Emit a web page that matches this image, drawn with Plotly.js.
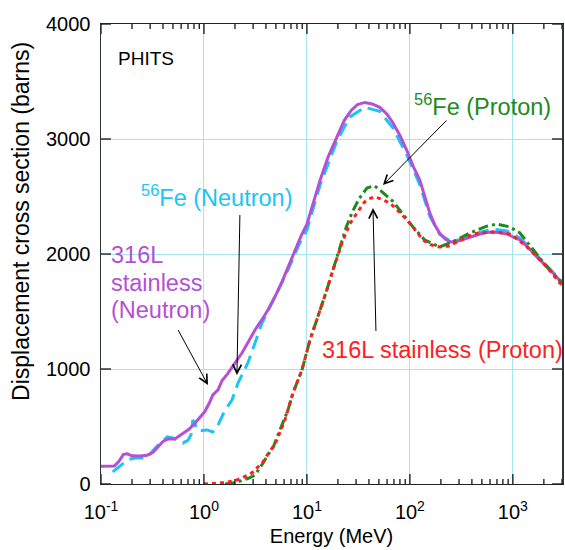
<!DOCTYPE html>
<html>
<head>
<meta charset="utf-8">
<script src="https://cdn.plot.ly/plotly-3.0.1.min.js"></script>
<style>html,body{margin:0;padding:0;background:#fff;}#chart{width:565px;height:550px;}</style>
</head>
<body>
<div id="chart"></div>
<script>
// Energy (MeV) and displacement cross section (barns)
var nSSE = [0.1,0.135,0.15,0.165,0.18,0.2,0.24,0.28,0.32,0.36,0.4,0.45,0.52,0.58,0.65,0.72,0.82,0.92,1.02,1.12,1.22,1.37,1.5,1.7,1.87,2.1,2.34,2.7,3.13,3.6,4.18,4.9,5.71,6.6,7.65,8.8,10,11.5,13.4,16,19.5,23,27,31,36.5,43,51,60,68.4,80,93.5,108,125,140,156,175,195,220,250,290,330,400,480,560,640,760,875,1000,1170,1400,1710,2200,2860,3000];
var nSSV = [155,157,200,258,262,245,243,250,275,330,370,392,392,420,450,478,530,580,630,700,775,818,900,960,1017,1080,1139,1240,1339,1420,1513,1630,1755,1890,2035,2160,2260,2440,2640,2840,3020,3160,3250,3300,3318,3305,3275,3215,3140,3030,2900,2760,2640,2490,2357,2250,2180,2130,2105,2110,2128,2150,2174,2188,2192,2185,2174,2150,2122,2060,1974,1880,1774,1750];

var nFeE = [0.13,0.15,0.171,0.19,0.214,0.24,0.267,0.3,0.35,0.39,0.44,0.5,0.55,0.625,0.7,0.75,0.78,0.82,0.855,0.95,1.07,1.22,1.35,1.45,1.6,1.87,2.14,2.67,3.66,4.89,6.54,8.55,10,13.4,19.5,26,36.5,51,68,93.5,125,156,195,250,330,480,640,875,1170,1710,2860,3000];
var nFeV = [105,150,191,215,226,226,226,260,330,365,409,400,383,357,380,430,557,520,470,465,470,452,500,560,643,730,878,1052,1400,1626,1861,2100,2210,2600,2980,3190,3275,3240,3100,2860,2600,2330,2170,2110,2130,2190,2215,2200,2140,1990,1780,1760];

var pSSE = [1.0,1.14,1.4,1.71,2.0,2.34,2.92,3.34,3.74,4.18,4.68,5.11,6.11,7.31,8.94,10.7,12.8,15.6,17.9,21.9,26,30.6,36,40,45.7,52,64,78,93.5,110,134,160,195,240,286,340,409,500,639,760,935,1100,1370,1700,2140,2860,3000];
var pSSV = [0,2,8,17,30,52,96,148,191,261,322,383,557,791,991,1252,1452,1687,1861,2096,2260,2357,2450,2480,2496,2480,2443,2370,2296,2220,2122,2080,2061,2070,2104,2140,2174,2185,2191,2185,2174,2130,2061,1980,1887,1748,1730];

var pFeE = [1.6,2.0,2.34,2.7,3.13,3.4,3.74,4.18,4.68,5.47,6.54,7.31,8.94,10.7,12.8,15.6,17.9,20.9,24,27.3,32,38.3,45,51,60,68,85,107,140,195,280,383,550,700,935,1170,1600,2140,3000];
var pFeV = [0,10,30,50,78,125,180,255,315,470,643,791,991,1252,1452,1687,1861,2061,2230,2357,2480,2574,2595,2557,2500,2460,2350,2235,2120,2061,2120,2183,2240,2261,2235,2183,2030,1887,1745];

var xTickVals = [0.1,1,10,100,1000];
var xTickText = ['10<sup>-1</sup>','10<sup>0</sup>','10<sup>1</sup>','10<sup>2</sup>','10<sup>3</sup>'];
var yTickVals = [0,1000,2000,3000,4000];
var xMax = 3000;

var cPurple = '#b450d6', cCyan = '#1cc4f4', cGreen = '#1d8a1d', cRed = '#ff1e1e';

var traces = [
  {x:nFeE, y:nFeV, mode:'lines', line:{color:cCyan, width:3, dash:'14px,7px'}},
  {x:nSSE, y:nSSV, mode:'lines', line:{color:cPurple, width:3}},
  {x:pFeE, y:pFeV, mode:'lines', line:{color:cGreen, width:3, dash:'10px,4px,3px,4px'}},
  {x:pSSE, y:pSSV, mode:'lines', line:{color:cRed, width:3, dash:'4px,4px'}}
];

// tick marks drawn inward on all four edges (major 10 px, minor 5 px), plot area is 461 x 460 px
var plotW = 461, plotH = 460;
var shapes = [];
function xTick(v, len){
  var f = len / plotH;
  shapes.push({type:'line', xref:'x', yref:'paper', x0:v, x1:v, y0:0, y1:f, line:{color:'#000', width:1.2}});
  shapes.push({type:'line', xref:'x', yref:'paper', x0:v, x1:v, y0:1, y1:1 - f, line:{color:'#000', width:1.2}});
}
function yTick(v, len){
  var f = len / plotW;
  shapes.push({type:'line', yref:'y', xref:'paper', y0:v, y1:v, x0:0, x1:f, line:{color:'#000', width:1.2}});
  shapes.push({type:'line', yref:'y', xref:'paper', y0:v, y1:v, x0:1, x1:1 - f, line:{color:'#000', width:1.2}});
}
xTickVals.forEach(function(d){
  xTick(d, 10);
  for(var k=2;k<=9;k++){ if(d*k <= xMax) xTick(d*k, 5); }
});
yTickVals.forEach(function(v){ yTick(v, 10); });

var fontFam = 'Liberation Sans, Arial, Helvetica, sans-serif';
function arrow(xE, yV, ax, ay){
  return {x:Math.log10(xE), y:yV, xref:'x', yref:'y', text:' ', font:{size:1},
    showarrow:true, arrowhead:5, arrowsize:1.7, arrowwidth:1, arrowcolor:'#000', ax:ax, ay:ay, standoff:0};
}
function label(txt, px, py, color, size, anchor){
  return {xref:'paper', yref:'paper', x:px, y:py, xanchor:anchor||'center', yanchor:'middle', text:txt, showarrow:false, font:{size:size, color:color}};
}
var layout = {
  width:565, height:550,
  margin:{l:101, r:3, t:24, b:66},
  paper_bgcolor:'#fff', plot_bgcolor:'#fff',
  showlegend:false,
  font:{family:fontFam, size:20, color:'#000'},
  xaxis:{type:'log', range:[-1, Math.log10(xMax)], tickmode:'array', tickvals:xTickVals, ticktext:xTickText,
    ticks:'', showline:true, linecolor:'#222', linewidth:1.2, mirror:true,
    showgrid:true, gridcolor:'#a6e7ef', gridwidth:1, zeroline:false, ticklabelstandoff:10,
    title:{text:'Energy (MeV)', font:{size:20}, standoff:6}, tickfont:{size:20}},
  yaxis:{range:[0,4000], tickmode:'array', tickvals:yTickVals, ticks:'',
    showline:true, linecolor:'#2a3535', linewidth:1.5, mirror:true, showgrid:true, gridcolor:'#a6e7ef', zeroline:false,
    ticklabelstandoff:5, tickfont:{size:20}},
  shapes: shapes,
  annotations:[
    {xref:'paper', yref:'paper', x:0, y:0.5696, xshift:-80, xanchor:'center', yanchor:'middle', textangle:-90,
      text:'Displacement cross section (barns)', showarrow:false, font:{size:23, color:'#000'}},
    label('PHITS', 0.0325, 0.926, '#000', 19, 'left'),
    label('<sup>56</sup>Fe (Neutron)', 0.2516, 0.626, cCyan, 23.5),
    label('316L', 0.017, 0.4978, cPurple, 23.5, 'left'),
    label('stainless', 0.017, 0.437, cPurple, 23.5, 'left'),
    label('(Neutron)', 0.017, 0.378, cPurple, 23.5, 'left'),
    label('<sup>56</sup>Fe (Proton)', 0.8265, 0.824, cGreen, 23.5),
    label('316L stainless (Proton)', 0.741, 0.291, cRed, 23.5),
    arrow(2.09, 948, 3, -162),
    arrow(1.094, 861, -31, -57),
    arrow(54.7, 2600, 65, -66),
    arrow(43.8, 2400, 3, 125)
  ]
};
Plotly.newPlot('chart', traces, layout, {staticPlot:true, displayModeBar:false});
</script>
</body>
</html>
